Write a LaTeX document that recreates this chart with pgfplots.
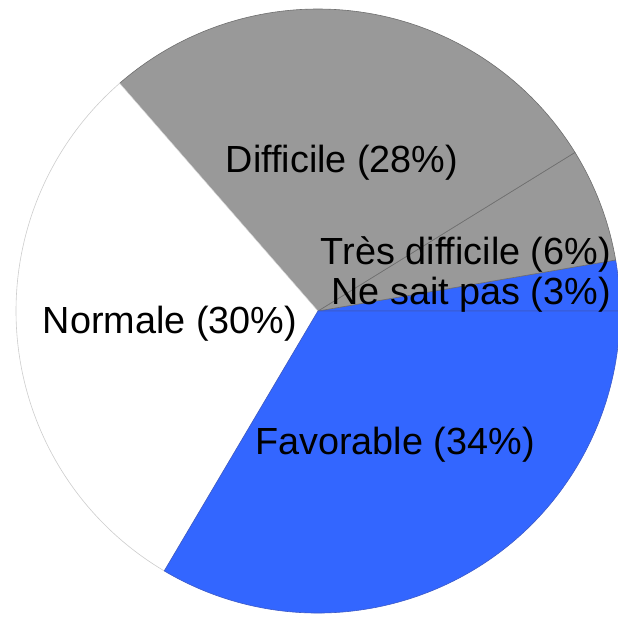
\documentclass[border=0pt]{standalone}
\usepackage{pgfplots}
\pgfplotsset{compat=1.18}
\usepackage{pgfplotstable}
\usepackage{fontspec}
\setmainfont{Liberation Sans}
\definecolor{pieblue}{RGB}{51,102,255}
\definecolor{piegray}{RGB}{153,153,153}
\definecolor{piewhite}{RGB}{255,255,255}
\definecolor{edgeblue}{RGB}{60,90,200}
\definecolor{edgegray}{RGB}{110,110,110}
\definecolor{edgewhite}{RGB}{205,205,205}
% slices counter-clockwise from 3 o'clock; value in percent
\pgfplotstableread[col sep=comma]{
label,value,fillc,edgec
Ne sait pas,2.7,pieblue,edgeblue
Très difficile,6.1,piegray,edgegray
Difficile,27.6,piegray,edgegray
Normale,30.1,piewhite,edgewhite
Favorable,33.5,pieblue,edgeblue
}\piedata
\begin{document}
\begin{tikzpicture}
\useasboundingbox (0,0) rectangle (618pt,617pt);
\begin{axis}[
  at={(0,0)}, anchor=south west,
  hide axis, scale only axis,
  width=618pt, height=617pt,
  xmin=0, xmax=618, ymin=0, ymax=617,
  clip=true,
]
\def\cum{0}
\pgfplotsforeachungrouped \i in {0,...,4}{%
  \pgfplotstablegetelem{\i}{value}\of\piedata \let\v\pgfplotsretval
  \pgfplotstablegetelem{\i}{fillc}\of\piedata \let\fc\pgfplotsretval
  \pgfplotstablegetelem{\i}{edgec}\of\piedata \let\ec\pgfplotsretval
  \pgfmathsetmacro\a{\cum*3.6}%
  \pgfmathsetmacro\b{(\cum+\v)*3.6}%
  \edef\temp{\noexpand\filldraw[fill=\fc, draw=\ec, line width=0.6pt, line join=round]
    (axis cs:318,306) -- ++(\a:302pt) arc[start angle=\a, end angle=\b, radius=302pt] -- cycle;}%
  \temp
  \pgfmathsetmacro\cum{\cum+\v}%
}
\begin{scope}[every node/.style={font=\fontsize{37.8}{40}\selectfont, text=black, inner sep=0pt}]
\node[anchor=base] at (axis cs:342,444) {Difficile (28\%)};
\node[anchor=base east] at (axis cs:611,352) {Très difficile (6\%)};
\node[anchor=base east] at (axis cs:611,312) {Ne sait pas (3\%)};
\node[anchor=base] at (axis cs:170,283) {Normale (30\%)};
\node[anchor=base] at (axis cs:395,162) {Favorable (34\%)};
\end{scope}
\end{axis}
\end{tikzpicture}
\end{document}
